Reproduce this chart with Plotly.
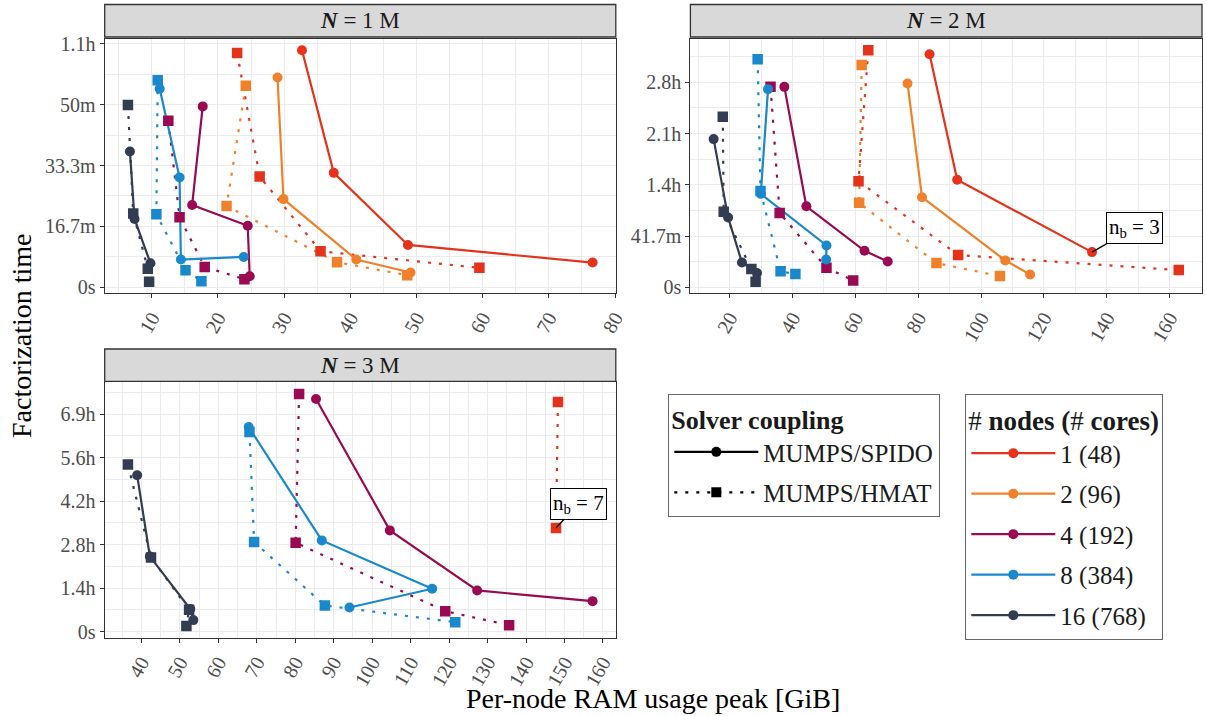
import plotly.graph_objects as go

# ---------------- data: (per-node RAM peak [GiB], factorization time [s]) ----------------
# N = 1 M
N1M_SPIDO_1 = [(32.7, 3896), (37.5, 1880), (48.7, 694), (76.6, 404)]
N1M_HMAT_1 = [(22.9, 3852), (26.3, 1820), (35.5, 590), (59.5, 317)]
N1M_SPIDO_2 = [(29.0, 3448), (29.9, 1448), (40.9, 454), (49.1, 240)]
N1M_HMAT_2 = [(24.2, 3311), (21.3, 1333), (38.0, 410), (48.6, 197)]
N1M_SPIDO_4 = [(17.7, 2973), (16.1, 1350), (24.5, 1011), (24.8, 180)]
N1M_HMAT_4 = [(12.5, 2738), (14.2, 1148), (18.0, 333), (24.0, 131)]
N1M_SPIDO_8 = [(11.2, 3262), (14.2, 1805), (14.4, 454), (23.9, 497)]
N1M_HMAT_8 = [(10.9, 3404), (10.7, 1197), (15.1, 279), (17.5, 98)]
N1M_SPIDO_16 = [(6.7, 2230), (7.4, 1121), (9.8, 393)]
N1M_HMAT_16 = [(6.4, 2995), (7.2, 1213), (9.4, 302), (9.6, 89)]

# N = 2 M
N2M_SPIDO_1 = [(83.6, 11364), (92.4, 5244), (135.3, 1721)]
N2M_HMAT_1 = [(64.1, 11558), (61.0, 5179), (92.7, 1575), (162.9, 844)]
N2M_SPIDO_2 = [(76.6, 9935), (81.2, 4399), (107.7, 1315), (115.6, 633)]
N2M_HMAT_2 = [(62.0, 10844), (61.2, 4123), (85.8, 1185), (106.0, 552)]
N2M_SPIDO_4 = [(37.4, 9776), (44.4, 3955), (62.9, 1786), (70.3, 1266)]
N2M_HMAT_4 = [(33.0, 9776), (35.9, 3630), (50.8, 958), (59.3, 341)]
N2M_SPIDO_8 = [(32.2, 9664), (29.9, 4560), (50.8, 2045), (50.7, 1364)]
N2M_HMAT_8 = [(28.9, 11120), (29.8, 4700), (36.2, 790), (40.9, 650)]
N2M_SPIDO_16 = [(14.9, 7228), (19.5, 3410), (23.9, 1218), (28.7, 701)]
N2M_HMAT_16 = [(17.8, 8315), (18.1, 3687), (26.9, 896), (28.25, 278)]

# N = 3 M
N3M_SPIDO_1 = []
N3M_HMAT_1 = [(148.3, 26421), (147.8, 11905)]
N3M_SPIDO_2 = []
N3M_HMAT_2 = []
N3M_SPIDO_4 = [(85.4, 26766), (104.6, 11636), (127.3, 4724), (157.3, 3495)]
N3M_HMAT_4 = [(81.0, 27343), (80.1, 10215), (119.0, 2343), (135.6, 730)]
N3M_SPIDO_8 = [(67.9, 23541), (86.9, 10484), (115.6, 4916), (94.1, 2765)]
N3M_HMAT_8 = [(68.1, 22965), (69.3, 10292), (87.7, 2995), (121.6, 1075)]
N3M_SPIDO_16 = [(38.9, 17972), (42.2, 8641), (52.7, 2580), (53.5, 1313)]
N3M_HMAT_16 = [(36.5, 19205), (42.5, 8525), (52.4, 2500), (51.7, 622)]

PANELS = ["1", "2", "3"]
NODES = [1, 2, 4, 8, 16]
NODE_LABELS = ["1 (48)", "2 (96)", "4 (192)", "8 (384)", "16 (768)"]
COUPLINGS = ["MUMPS/SPIDO", "MUMPS/HMAT"]

# axis ticks (seconds) and their labels
P1_YTICKS = [0, 1000, 2000, 3000, 4000]
P1_YLABELS = ["0s", "16.7m", "33.3m", "50m", "1.1h"]
P2_YTICKS = [0, 2500, 5000, 7500, 10000]
P2_YLABELS = ["0s", "41.7m", "1.4h", "2.1h", "2.8h"]
P3_YTICKS = [0, 5000, 10000, 15000, 20000, 25000]
P3_YLABELS = ["0s", "1.4h", "2.8h", "4.2h", "5.6h", "6.9h"]

# annotations: (panel, ram, time, text)
NB_LABELS = [("2", 135.3, 1721, "n<sub>b</sub> = 3"), ("3", 147.8, 11905, "n<sub>b</sub> = 7")]

# ---------------- styling ----------------
COLORS = {1: "#E5331B", 2: "#F08029", 4: "#990A52", 8: "#1A88CC", 16: "#323C52"}
DOT = "3px,8px"
FONT = "Liberation Serif"
W, H = 1207, 716

series = {
    ("1", "MUMPS/SPIDO"): {1: N1M_SPIDO_1, 2: N1M_SPIDO_2, 4: N1M_SPIDO_4, 8: N1M_SPIDO_8, 16: N1M_SPIDO_16},
    ("1", "MUMPS/HMAT"): {1: N1M_HMAT_1, 2: N1M_HMAT_2, 4: N1M_HMAT_4, 8: N1M_HMAT_8, 16: N1M_HMAT_16},
    ("2", "MUMPS/SPIDO"): {1: N2M_SPIDO_1, 2: N2M_SPIDO_2, 4: N2M_SPIDO_4, 8: N2M_SPIDO_8, 16: N2M_SPIDO_16},
    ("2", "MUMPS/HMAT"): {1: N2M_HMAT_1, 2: N2M_HMAT_2, 4: N2M_HMAT_4, 8: N2M_HMAT_8, 16: N2M_HMAT_16},
    ("3", "MUMPS/SPIDO"): {1: N3M_SPIDO_1, 2: N3M_SPIDO_2, 4: N3M_SPIDO_4, 8: N3M_SPIDO_8, 16: N3M_SPIDO_16},
    ("3", "MUMPS/HMAT"): {1: N3M_HMAT_1, 2: N3M_HMAT_2, 4: N3M_HMAT_4, 8: N3M_HMAT_8, 16: N3M_HMAT_16},
}
axis_ids = {"1": ("x", "y"), "2": ("x2", "y2"), "3": ("x3", "y3")}

fig = go.Figure()

# lines first (ggplot draws line layer beneath point layer)
for mode in ["lines", "markers"]:
    for p in PANELS:
        xa, ya = axis_ids[p]
        for n in NODES:
            for c in COUPLINGS:
                pts = series[(p, c)][n]
                if not pts:
                    continue
                spido = c == "MUMPS/SPIDO"
                fig.add_trace(go.Scatter(
                    x=[q[0] for q in pts], y=[q[1] for q in pts],
                    mode=mode, xaxis=xa, yaxis=ya, showlegend=False,
                    line=dict(color=COLORS[n], width=2.2, dash="solid" if spido else DOT),
                    marker=dict(color=COLORS[n], size=10 if spido else 10.5,
                                symbol="circle" if spido else "square", line=dict(width=0)),
                    hoverinfo="skip",
                ))

# legend entries
for i, c in enumerate(COUPLINGS):
    spido = c == "MUMPS/SPIDO"
    fig.add_trace(go.Scatter(
        x=[None], y=[None], mode="lines+markers", name=c, legend="legend",
        legendgroup="c%d" % i,
        line=dict(color="black", width=2.4, dash="solid" if spido else DOT),
        marker=dict(color="black", size=10, symbol="circle" if spido else "square"),
    ))
for n, lab in zip(NODES, NODE_LABELS):
    fig.add_trace(go.Scatter(
        x=[None], y=[None], mode="lines+markers", name=lab, legend="legend2",
        legendgroup="n%d" % n,
        line=dict(color=COLORS[n], width=2.4), marker=dict(color=COLORS[n], size=10, symbol="circle"),
    ))

# ---------------- layout ----------------
def px_x(v):
    return v / W

def px_y(v):
    return 1 - v / H

dom_left = [px_x(104.7), px_x(615.8)]
dom_right = [px_x(690.4), px_x(1202.0)]
dom_top = [px_y(293.3), px_y(38.7)]
dom_bot = [px_y(637.7), px_y(382.3)]

def data_range(p, idx):
    vals = [q[idx] for c in COUPLINGS for n in NODES for q in series[(p, c)][n]]
    lo, hi = min(vals), max(vals)
    pad = 0.05 * (hi - lo)
    return [lo - pad, hi + pad]

tickfont = dict(family=FONT, size=20, color="#4D4D4D")
common = dict(showline=True, mirror=True, linecolor="#333333", linewidth=1.3,
              ticks="outside", ticklen=4, tickwidth=1.1, tickcolor="#333333",
              showgrid=True, gridcolor="#EBEBEB", gridwidth=1.1, zeroline=False,
              tickfont=tickfont, automargin=False)

def xaxis(dom, anchor, p, dtick):
    return dict(common, domain=dom, anchor=anchor, range=data_range(p, 0),
                tickmode="linear", tick0=0, dtick=dtick, tickangle=-60,
                minor=dict(tick0=0, dtick=dtick / 2, showgrid=True, gridcolor="#EBEBEB",
                           gridwidth=0.55, ticks=""))

def yaxis(dom, anchor, p, tv, tt):
    step = tv[1] - tv[0]
    return dict(common, domain=dom, anchor=anchor, range=data_range(p, 1),
                tickmode="array", tickvals=tv, ticktext=tt,
                minor=dict(tick0=step / 2, dtick=step, showgrid=True, gridcolor="#EBEBEB",
                           gridwidth=0.55, ticks=""))

shapes = []
annotations = []
strips = [("1", dom_left, (4.5, 37.0)), ("2", dom_right, (4.5, 37.0)), ("3", dom_left, (349, 381.3))]
for p, dom, (t, b) in strips:
    shapes.append(dict(type="rect", xref="paper", yref="paper", x0=dom[0], x1=dom[1],
                       y0=px_y(b), y1=px_y(t), fillcolor="#D9D9D9",
                       line=dict(color="#333333", width=1.3), layer="below"))
    annotations.append(dict(xref="paper", yref="paper", x=(dom[0] + dom[1]) / 2, y=px_y((t + b) / 2),
                            text="<b><i>N</i></b> = %s M" % p, showarrow=False,
                            font=dict(family=FONT, size=23, color="#1A1A1A"),
                            xanchor="center", yanchor="middle"))

for p, xv, yv, txt in NB_LABELS:
    xa, ya = axis_ids[p]
    annotations.append(dict(x=xv, y=yv, xref=xa, yref=ya, text=txt, showarrow=True,
                            arrowhead=0, arrowwidth=1.3, arrowcolor="black",
                            ax=42 if p == "2" else 22, ay=-24, standoff=0,
                            bgcolor="white", bordercolor="black", borderwidth=1, borderpad=2,
                            font=dict(family=FONT, size=21, color="black")))

annotations.append(dict(xref="paper", yref="paper", x=px_x(653), y=px_y(698),
                        text="Per-node RAM usage peak [GiB]", showarrow=False,
                        font=dict(family=FONT, size=28, color="black"),
                        xanchor="center", yanchor="middle"))
annotations.append(dict(xref="paper", yref="paper", x=px_x(22), y=px_y(336),
                        text="Factorization time", showarrow=False, textangle=-90,
                        font=dict(family=FONT, size=28, color="black"),
                        xanchor="center", yanchor="middle"))

legend_common = dict(xanchor="left", yanchor="top", bgcolor="white", bordercolor="#666666",
                     borderwidth=1.3, font=dict(family=FONT, size=25, color="#1A1A1A"),
                     traceorder="grouped", tracegroupgap=5, itemwidth=84)

fig.update_layout(
    width=W, height=H,
    margin=dict(l=0, r=0, t=0, b=0, pad=0, autoexpand=False),
    paper_bgcolor="white", plot_bgcolor="white",
    font=dict(family=FONT),
    xaxis=xaxis(dom_left, "y", "1", 10),
    yaxis=yaxis(dom_top, "x", "1", P1_YTICKS, P1_YLABELS),
    xaxis2=xaxis(dom_right, "y2", "2", 20),
    yaxis2=yaxis(dom_top, "x2", "2", P2_YTICKS, P2_YLABELS),
    xaxis3=xaxis(dom_left, "y3", "3", 10),
    yaxis3=yaxis(dom_bot, "x3", "3", P3_YTICKS, P3_YLABELS),
    shapes=shapes,
    annotations=annotations,
    legend=dict(legend_common, x=px_x(668), y=px_y(394),
                title=dict(text="<b>Solver coupling</b>", font=dict(family=FONT, size=26))),
    legend2=dict(legend_common, x=px_x(965), y=px_y(394),
                 title=dict(text="# <b>nodes (</b># <b>cores)</b>", font=dict(family=FONT, size=27))),
)

# remove the default page margin / scrollbars so the figure sits exactly in the window
fig.write_html(
    "out.html", config={"displayModeBar": False},
    post_script=("document.documentElement.style.margin='0px';"
                 "document.body.style.margin='0px';"
                 "document.documentElement.style.overflow='hidden';"
                 "document.body.style.overflow='hidden';"),
)
